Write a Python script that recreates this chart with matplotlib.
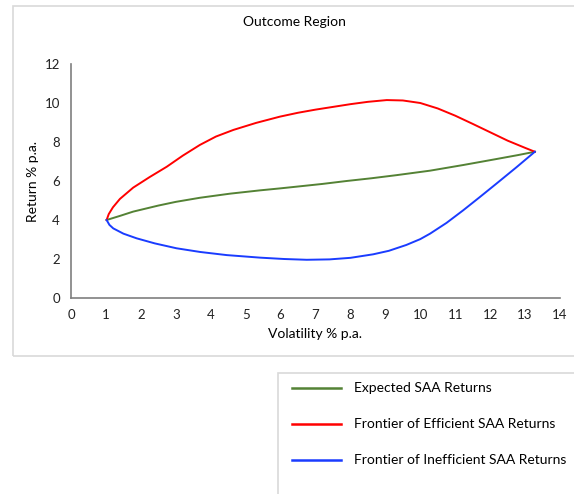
import matplotlib
matplotlib.use('Agg')
import matplotlib.pyplot as plt
from matplotlib.patches import Rectangle
from matplotlib.lines import Line2D

plt.rcParams['font.family'] = ['Lato', 'DejaVu Sans']

# data
exp_vol = [1.02, 1.4, 1.78, 2.5, 3.0, 3.69, 4.55, 5.41, 5.98, 6.46, 7.2, 7.89,
           8.6, 9.32, 10.28, 11.23, 12.19, 12.8, 13.28]
exp_ret = [4.0, 4.21, 4.43, 4.74, 4.93, 5.14, 5.35, 5.52, 5.62, 5.71, 5.85, 6.0,
           6.14, 6.3, 6.53, 6.82, 7.13, 7.33, 7.5]

eff_vol = [1.02, 1.08, 1.2, 1.4, 1.78, 2.25, 2.74, 3.2, 3.69, 4.15, 4.65, 5.3, 5.98,
           6.5, 7.0, 7.5, 8.0, 8.5, 9.04, 9.5, 10.0, 10.5, 11.0,
           11.5, 12.0, 12.5, 13.0, 13.28]
eff_ret = [4.0, 4.3, 4.65, 5.08, 5.66, 6.2, 6.73, 7.3, 7.85, 8.28, 8.62, 8.98, 9.3,
           9.5, 9.66, 9.8, 9.94, 10.06, 10.15, 10.13, 10.0, 9.72, 9.35,
           8.93, 8.5, 8.07, 7.7, 7.5]

ineff_vol = [1.02, 1.1, 1.21, 1.5, 1.88, 2.4, 3.02, 3.7, 4.46, 5.41, 6.1, 6.75,
             7.4, 8.0, 8.65, 9.1, 9.6, 10.0, 10.28, 10.75, 11.23, 11.7, 12.19,
             12.75, 13.28]
ineff_ret = [4.0, 3.75, 3.57, 3.3, 3.06, 2.8, 2.55, 2.36, 2.2, 2.07, 2.0, 1.96,
             1.98, 2.06, 2.24, 2.42, 2.72, 3.02, 3.3, 3.85, 4.5, 5.17, 5.88,
             6.7, 7.5]

labels = ['Expected SAA Returns', 'Frontier of Efficient SAA Returns',
          'Frontier of Inefficient SAA Returns']
colors = ['#548235', '#ff0000', '#1a3cff']

W, H = 574, 494
fig = plt.figure(figsize=(W / 100, H / 100), dpi=100)

# outer boxes (chart area and legend area)
fig.patches.append(Rectangle((13 / W, 1 - 356 / H), 600 / W, 350 / H,
                             transform=fig.transFigure, fill=False,
                             edgecolor='#d9d9d9', linewidth=1.2))
fig.patches.append(Rectangle((278 / W, -0.1), 400 / W, 0.1 + (494 - 373) / H,
                             transform=fig.transFigure, fill=False,
                             edgecolor='#d9d9d9', linewidth=1.2))

ax = fig.add_axes([71 / W, 1 - 298 / H, (560 - 71) / W, (298 - 64) / H])
ax.plot(exp_vol, exp_ret, color=colors[0], lw=1.4)
ax.plot(eff_vol, eff_ret, color=colors[1], lw=1.4)
ax.plot(ineff_vol, ineff_ret, color=colors[2], lw=1.4)

ax.set_xlim(0, 14)
ax.set_ylim(0, 12)
ax.set_xticks(range(0, 15))
ax.set_yticks(range(0, 13, 2))
ax.tick_params(length=0, labelsize=9.5, pad=8, colors='#222222')
for s in ['top', 'right']:
    ax.spines[s].set_visible(False)
for s in ['left', 'bottom']:
    ax.spines[s].set_color('#7f7f7f')
    ax.spines[s].set_linewidth(1.2)

fig.text(315 / W, 1 - 334 / H, 'Volatility % p.a.', ha='center', va='center', fontsize=10)
fig.text(33 / W, 1 - 181 / H, 'Return % p.a.', ha='center', va='center',
         rotation=90, fontsize=10)
fig.text(294 / W, 1 - 22 / H, 'Outcome Region', ha='center', va='center', fontsize=10)

# legend drawn by hand
for i, (lab, c) in enumerate(zip(labels, colors)):
    y = 1 - (388 + 36 * i) / H
    fig.lines.append(Line2D([292 / W, 341 / W], [y, y], transform=fig.transFigure,
                            color=c, lw=1.8))
    fig.text(354 / W, y, lab, va='center', ha='left', fontsize=10)

fig.savefig('out.png', dpi=100)
